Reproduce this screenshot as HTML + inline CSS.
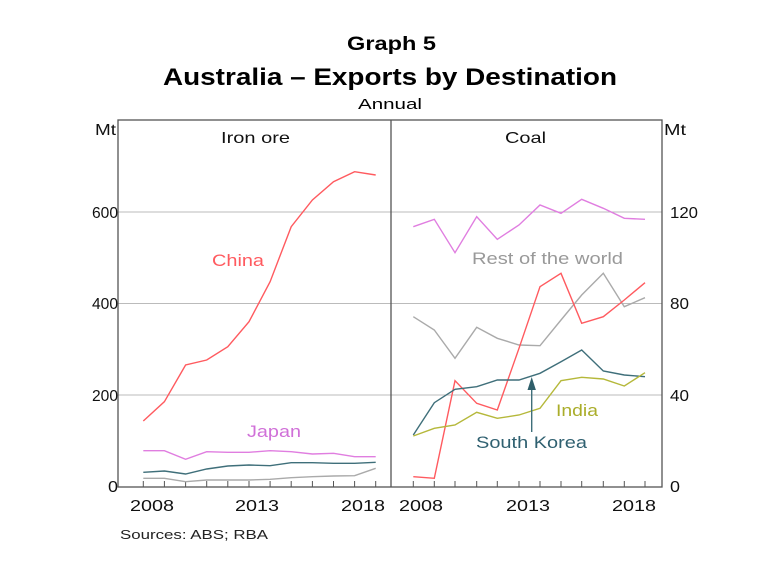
<!DOCTYPE html><html><head><style>body{margin:0;background:#fff}svg{display:block;font-family:"Liberation Sans",Arial,sans-serif}</style></head><body>
<svg width="779" height="569" viewBox="0 0 779 569">
<rect width="779" height="569" fill="#fff"/>
<text x="347" y="50" font-size="19" font-weight="bold" textLength="89" lengthAdjust="spacingAndGlyphs">Graph 5</text>
<text x="163" y="85" font-size="24" font-weight="bold" textLength="454" lengthAdjust="spacingAndGlyphs">Australia – Exports by Destination</text>
<text x="358" y="109" font-size="15" textLength="64" lengthAdjust="spacingAndGlyphs">Annual</text>
<g stroke="#bbb" stroke-width="1"><line x1="118" y1="212" x2="662" y2="212"/><line x1="118" y1="303.5" x2="662" y2="303.5"/><line x1="118" y1="395" x2="662" y2="395"/></g>
<g stroke="#555" stroke-width="1.3" fill="none"><rect x="118" y="120" width="544" height="367"/><line x1="391" y1="120" x2="391" y2="487"/></g>
<g stroke="#555" stroke-width="1">
<path d="M143.3 487v-6M164.4 487v-6M185.6 487v-6M206.7 487v-6M227.8 487v-6M249 487v-6M270.1 487v-6M291.2 487v-6M312.4 487v-6M333.5 487v-6M354.6 487v-6M375.7 487v-6"/>
<path d="M413.3 487v-6M434.3 487v-6M455 487v-6M476.7 487v-6M497.3 487v-6M519 487v-6M540 487v-6M561 487v-6M581.7 487v-6M603.3 487v-6M624.3 487v-6M645 487v-6"/>
</g>
<g font-size="16" fill="#111">
<text x="95" y="135" textLength="21" lengthAdjust="spacingAndGlyphs">Mt</text><text x="664" y="135" textLength="22" lengthAdjust="spacingAndGlyphs">Mt</text>
<text x="92" y="218" textLength="26" lengthAdjust="spacingAndGlyphs">600</text><text x="92" y="309" textLength="26" lengthAdjust="spacingAndGlyphs">400</text><text x="92" y="401" textLength="26" lengthAdjust="spacingAndGlyphs">200</text><text x="108" y="492" textLength="10" lengthAdjust="spacingAndGlyphs">0</text>
<text x="670" y="218" textLength="28" lengthAdjust="spacingAndGlyphs">120</text><text x="670" y="309" textLength="19" lengthAdjust="spacingAndGlyphs">80</text><text x="670" y="401" textLength="19" lengthAdjust="spacingAndGlyphs">40</text><text x="670" y="492" textLength="10" lengthAdjust="spacingAndGlyphs">0</text>
<text x="130" y="511" textLength="44" lengthAdjust="spacingAndGlyphs">2008</text><text x="235" y="511" textLength="44" lengthAdjust="spacingAndGlyphs">2013</text><text x="341" y="511" textLength="44" lengthAdjust="spacingAndGlyphs">2018</text>
<text x="399" y="511" textLength="44" lengthAdjust="spacingAndGlyphs">2008</text><text x="506" y="511" textLength="44" lengthAdjust="spacingAndGlyphs">2013</text><text x="612" y="511" textLength="44" lengthAdjust="spacingAndGlyphs">2018</text>
<text x="221" y="143" textLength="69" lengthAdjust="spacingAndGlyphs">Iron ore</text><text x="505" y="143" textLength="41" lengthAdjust="spacingAndGlyphs">Coal</text>
</g>
<text x="120" y="539" font-size="13" fill="#222" textLength="148" lengthAdjust="spacingAndGlyphs">Sources:   ABS; RBA</text>
<g fill="none" stroke-width="1.4">
<polyline stroke="#ff5a5f" points="143.3,421 164.4,401.7 185.6,365 206.7,360 227.8,346.7 249,321.7 270.1,281.7 291.2,226.7 312.4,200 333.5,181.7 354.6,171.7 375.7,175"/>
<polyline stroke="#e07ee0" points="143.3,450.7 164.4,450.7 185.6,459.3 206.7,451.7 227.8,452.3 249,452.3 270.1,450.7 291.2,451.7 312.4,454 333.5,453.3 354.6,456.7 375.7,456.7"/>
<polyline stroke="#3f6f7a" points="143.3,472.3 164.4,471 185.6,474 206.7,469 227.8,466 249,465 270.1,465.7 291.2,462.7 312.4,462.7 333.5,463.3 354.6,463.3 375.7,462.3"/>
<polyline stroke="#aaa" points="143.3,478.3 164.4,478.3 185.6,481.7 206.7,480 227.8,480 249,480 270.1,479.3 291.2,477.7 312.4,476.7 333.5,476 354.6,475.7 375.7,468.3"/>
<polyline stroke="#e07ee0" points="413.3,226.7 434.3,219.3 455,252.7 476.7,216.7 497.3,239.3 519,225 540,205 561,213.3 581.7,199.3 603.3,208.3 624.3,218.3 645,219.3"/>
<polyline stroke="#aaa" points="413.3,316.7 434.3,330 455,358.3 476.7,327.3 497.3,338.3 519,345 540,345.7 561,320 581.7,295 603.3,273.3 624.3,306.7 645,297.7"/>
<polyline stroke="#ff5a5f" points="413.3,476.7 434.3,478.3 455,380.7 476.7,403.3 497.3,410 519,348.3 540,286.7 561,273.3 581.7,323.3 603.3,316.7 624.3,300 645,282.7"/>
<polyline stroke="#3f6f7a" points="413.3,435 434.3,402.7 455,389.3 476.7,386.7 497.3,380 519,380 540,373.3 561,361.7 581.7,350 603.3,371 624.3,375 645,376.7"/>
<polyline stroke="#b5b83a" points="413.3,436 434.3,428.3 455,425 476.7,412.3 497.3,418.3 519,415 540,408.3 561,380.7 581.7,377.3 603.3,379 624.3,386 645,372.7"/>
<line x1="531.7" y1="432" x2="531.7" y2="388" stroke="#3f6f7a"/>
</g>
<polygon points="531.7,377 527.5,390 535.9,390" fill="#2f5f6a"/>
<g font-size="17">
<text x="212" y="266" fill="#ff5a5f" textLength="52" lengthAdjust="spacingAndGlyphs">China</text>
<text x="247" y="437" fill="#d070d8" textLength="54" lengthAdjust="spacingAndGlyphs">Japan</text>
<text x="472" y="264" fill="#999" textLength="151" lengthAdjust="spacingAndGlyphs">Rest of the world</text>
<text x="556" y="416" fill="#aaad2a" textLength="42" lengthAdjust="spacingAndGlyphs">India</text>
<text x="476" y="448" fill="#2f6070" textLength="111" lengthAdjust="spacingAndGlyphs">South Korea</text>
</g>
</svg></body></html>
